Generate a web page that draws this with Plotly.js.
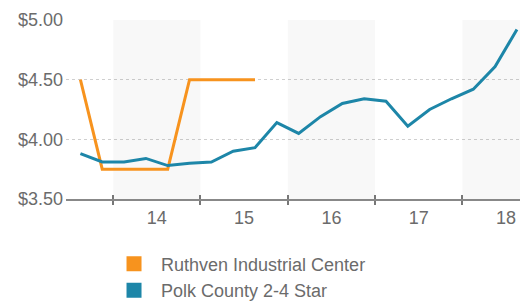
<!DOCTYPE html>
<html>
<head>
<meta charset="utf-8">
<script src="https://cdn.plot.ly/plotly-3.0.1.min.js"></script>
<style>html,body{margin:0;padding:0;background:#fff;}#chart{width:520px;height:301px;}</style>
</head>
<body>
<div id="chart"></div>
<script>
// ---- data ----
const quarters = ['2013Q3','2013Q4','2014Q1','2014Q2','2014Q3','2014Q4','2015Q1','2015Q2','2015Q3','2015Q4',
  '2016Q1','2016Q2','2016Q3','2016Q4','2017Q1','2017Q2','2017Q3','2017Q4','2018Q1','2018Q2','2018Q3'];
const ruthvenQuarters = quarters.slice(0, 9);
const ruthvenValues = [4.50, 3.75, 3.75, 3.75, 3.75, 4.50, 4.50, 4.50, 4.50];
const polkValues = [3.88, 3.81, 3.81, 3.84, 3.78, 3.80, 3.81, 3.90, 3.93, 4.14,
  4.05, 4.19, 4.30, 4.34, 4.32, 4.11, 4.25, 4.34, 4.42, 4.61, 4.92];
const years = [2013, 2014, 2015, 2016, 2017, 2018];
const labelYears = [2014, 2015, 2016, 2017, 2018];
const yearLabels = ['14', '15', '16', '17', '18'];
const shadedYears = [2014, 2016, 2018];
const seriesNames = ['Ruthven Industrial Center', 'Polk County 2-4 Star'];
const yTicks = [3.5, 4.0, 4.5, 5.0];
const yTickLabels = ['$3.50', '$4.00', '$4.50', '$5.00'];

// ---- helpers ----
function qpos(s) {
  const y = parseInt(s.slice(0, 4), 10) - 2000;
  const q = parseInt(s.slice(5), 10);
  return y + (q - 1) * 0.25 - 0.375;
}
const orange = '#f7931e';
const teal = '#1d86a8';
const yMin = 3.5, yMax = 5.0;
const xRange = [12.96, 18.16];

const labelCenters = labelYears.map(y => y - 2000);
const boundaries = years.map(y => y - 2000 + 0.5);

const traces = [
  { type: 'bar', x: shadedYears.map(y => y - 2000), y: shadedYears.map(() => yMax - yMin), base: yMin,
    width: 1, marker: { color: 'rgba(0,0,0,0.028)', line: { width: 0 } }, showlegend: false, hoverinfo: 'skip' },
  { type: 'scatter', mode: 'lines', x: ruthvenQuarters.map(qpos), y: ruthvenValues,
    line: { color: orange, width: 3 }, showlegend: false },
  { type: 'scatter', mode: 'lines', x: quarters.map(qpos), y: polkValues,
    line: { color: teal, width: 3 }, showlegend: false },
  { type: 'scatter', mode: 'markers', x: [null], y: [null], name: seriesNames[0],
    marker: { symbol: 'square', size: 15, color: orange } },
  { type: 'scatter', mode: 'markers', x: [null], y: [null], name: seriesNames[1],
    marker: { symbol: 'square', size: 15, color: teal } },
  { type: 'scatter', mode: 'markers', x: [null], y: [null], xaxis: 'x2', showlegend: false, hoverinfo: 'skip' },
  { type: 'scatter', mode: 'markers', x: [null], y: [null], xaxis: 'x3', showlegend: false, hoverinfo: 'skip' }
];

const font = { family: 'Liberation Sans, Arial, sans-serif', color: '#6b6b6b' };

const layout = {
  width: 520, height: 301,
  margin: { l: 66, r: 0, t: 20, b: 102, autoexpand: false },
  paper_bgcolor: '#fff', plot_bgcolor: '#fff',
  font: Object.assign({ size: 17 }, font),
  showlegend: true,
  barmode: 'overlay',
  xaxis: {
    range: xRange, tickmode: 'array', tickvals: boundaries, ticktext: boundaries.map(() => ''),
    ticks: 'outside', ticklen: 4, tickwidth: 2, tickcolor: '#777',
    showline: true, linecolor: '#888', linewidth: 2, showgrid: false, zeroline: false, fixedrange: true
  },
  xaxis2: {
    overlaying: 'x', side: 'bottom', range: xRange, tickmode: 'array', tickvals: labelCenters,
    ticktext: yearLabels, ticks: '', showline: false, showgrid: false, zeroline: false,
    tickfont: { size: 18, color: '#6b6b6b' }, ticklabelstandoff: 6
  },
  xaxis3: {
    overlaying: 'x', side: 'bottom', range: xRange, tickmode: 'array', tickvals: boundaries,
    ticktext: boundaries.map(() => ''), ticks: 'inside', ticklen: 4, tickwidth: 2, tickcolor: '#777',
    showline: false, showgrid: false, zeroline: false
  },
  yaxis: {
    range: [yMin, yMax], tickmode: 'array', tickvals: yTicks, ticktext: yTickLabels,
    showgrid: true, gridcolor: '#cfcfcf', griddash: 'dot', gridwidth: 1,
    zeroline: false, showline: false, ticks: '', tickfont: { size: 18, color: '#6b6b6b' }, ticklabelstandoff: 2
  },
  legend: {
    xref: 'container', yref: 'container',
    x: 0.2058, y: 0.184, xanchor: 'left', yanchor: 'top', orientation: 'v',
    font: { size: 18, color: '#6b6b6b' }, tracegroupgap: 0, itemwidth: 44
  }
};

Plotly.newPlot('chart', traces, layout, { displayModeBar: false, staticPlot: true });
</script>
</body>
</html>
